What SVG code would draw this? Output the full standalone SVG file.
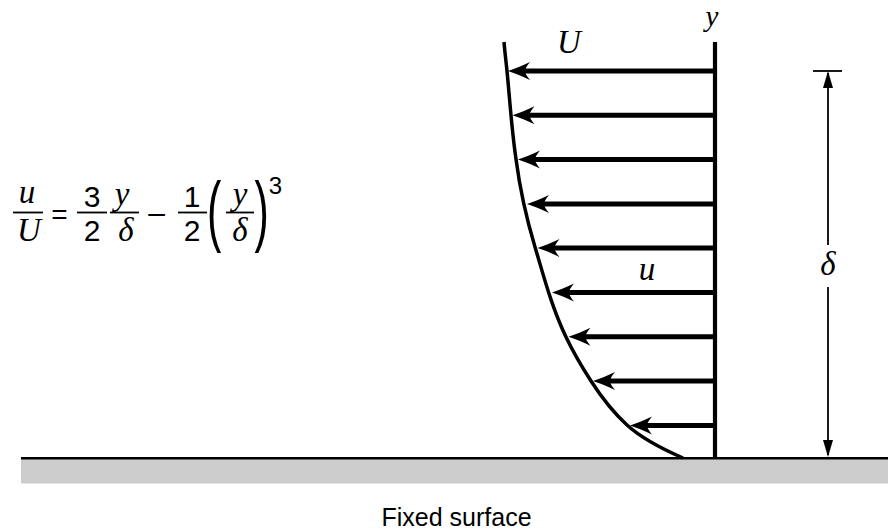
<svg xmlns="http://www.w3.org/2000/svg" width="888" height="531" viewBox="0 0 888 531">
<style>
.it{font-family:"Liberation Serif","Times New Roman",serif;font-style:italic;fill:#000;text-anchor:middle}
.sn{font-family:"Liberation Sans",Arial,sans-serif;fill:#000;text-anchor:middle}
.bar{stroke:#000;stroke-width:1.8;fill:none}
.vel{stroke:#000;stroke-width:5;fill:none}
.dim{stroke:#000;stroke-width:1.8;fill:none}
</style>
<defs>
<marker id="vhead" markerUnits="userSpaceOnUse" orient="auto" overflow="visible" refX="0" refY="0" markerWidth="30" markerHeight="20">
<path d="M14,0 C8,-2 0,-5 -8,-9 Q-3,-3 -3,0 Q-3,3 -8,9 C0,5 8,2 14,0 Z" fill="#000"/>
</marker>
<marker id="dhead" markerUnits="userSpaceOnUse" orient="auto" overflow="visible" refX="0" refY="0" markerWidth="20" markerHeight="12">
<path d="M2,0 L-15,-5 L-15,5 Z" fill="#000"/>
</marker>
</defs>
<rect width="888" height="531" fill="#fff"/>

<g id="formula">
<text class="it" x="27" y="203" font-size="33">u</text>
<line class="bar" x1="13" y1="212.5" x2="43" y2="212.5"/>
<text class="it" x="29" y="241" font-size="33">U</text>
<text class="sn" x="59.5" y="224" font-size="28">=</text>
<text class="sn" x="92" y="207" font-size="30">3</text>
<line class="bar" x1="77" y1="212.5" x2="107" y2="212.5"/>
<text class="sn" x="92" y="241" font-size="30">2</text>
<text class="it" x="122" y="205" font-size="33">y</text>
<line class="bar" x1="110" y1="212.5" x2="139" y2="212.5"/>
<text class="it" x="126" y="241" font-size="33">δ</text>
<text class="sn" x="156.5" y="223" font-size="30">–</text>
<text class="sn" x="192" y="207" font-size="30">1</text>
<line class="bar" x1="178" y1="212.5" x2="207" y2="212.5"/>
<text class="sn" x="192" y="241" font-size="30">2</text>
<text class="sn" font-size="78" style="text-anchor:start" transform="translate(207,237) scale(0.55,1)">(</text>
<text class="it" x="240" y="205" font-size="33">y</text>
<line class="bar" x1="226" y1="212.5" x2="254" y2="212.5"/>
<text class="it" x="240" y="241" font-size="33">δ</text>
<text class="sn" font-size="78" style="text-anchor:start" transform="translate(254.5,237) scale(0.55,1)">)</text>
<text class="sn" x="275.5" y="194" font-size="24">3</text>
</g>

<g id="ground">
<rect x="21" y="459" width="867" height="24.5" fill="#cccccc"/>
<line x1="21" y1="458.3" x2="888" y2="458.3" stroke="#000" stroke-width="2.5"/>
</g>

<g id="wall">
<line x1="715" y1="42" x2="715" y2="459" stroke="#000" stroke-width="4.2"/>
<text class="it" x="712" y="26" font-size="29">y</text>
</g>

<g id="profile">
<path d="M504,42 C504.8,51.7 506,61.3 507,71 C509.9,100.3 511.6,129.7 516,159 C519.8,188.3 526.2,217.7 535,247 C544,277 551.6,307 566,337 C573,351.7 581.5,366.3 591,381 C600.5,395.7 610.9,410.3 627,425 C639.1,436 657.7,447 683,458" fill="none" stroke="#000" stroke-width="3.5"/>
<text class="it" x="569" y="53" font-size="33">U</text>
<text class="it" x="647" y="280" font-size="33">u</text>
</g>

<g id="connectors">
<line class="vel" marker-end="url(#vhead)" x1="715" y1="71" x2="522" y2="71"/>
<line class="vel" marker-end="url(#vhead)" x1="715" y1="115.3" x2="526.5" y2="115.3"/>
<line class="vel" marker-end="url(#vhead)" x1="715" y1="159.6" x2="532" y2="159.6"/>
<line class="vel" marker-end="url(#vhead)" x1="715" y1="204" x2="541" y2="204"/>
<line class="vel" marker-end="url(#vhead)" x1="715" y1="248" x2="551.5" y2="248"/>
<line class="vel" marker-end="url(#vhead)" x1="715" y1="292.5" x2="566" y2="292.5"/>
<line class="vel" marker-end="url(#vhead)" x1="715" y1="336.8" x2="582.5" y2="336.8"/>
<line class="vel" marker-end="url(#vhead)" x1="715" y1="381" x2="607" y2="381"/>
<line class="vel" marker-end="url(#vhead)" x1="715" y1="425.4" x2="644" y2="425.4"/>
</g>

<g id="thickness">
<line class="dim" x1="813" y1="71" x2="842" y2="71" stroke-width="1.6"/>
<line class="dim" marker-end="url(#dhead)" x1="828" y1="245" x2="828" y2="73"/>
<line class="dim" marker-end="url(#dhead)" x1="828" y1="287" x2="828" y2="455"/>
<text class="it" x="828" y="275" font-size="33">δ</text>
</g>

<g id="caption">
<text class="sn" x="456.5" y="525.5" font-size="25" fill="#111">Fixed surface</text>
</g>
</svg>
